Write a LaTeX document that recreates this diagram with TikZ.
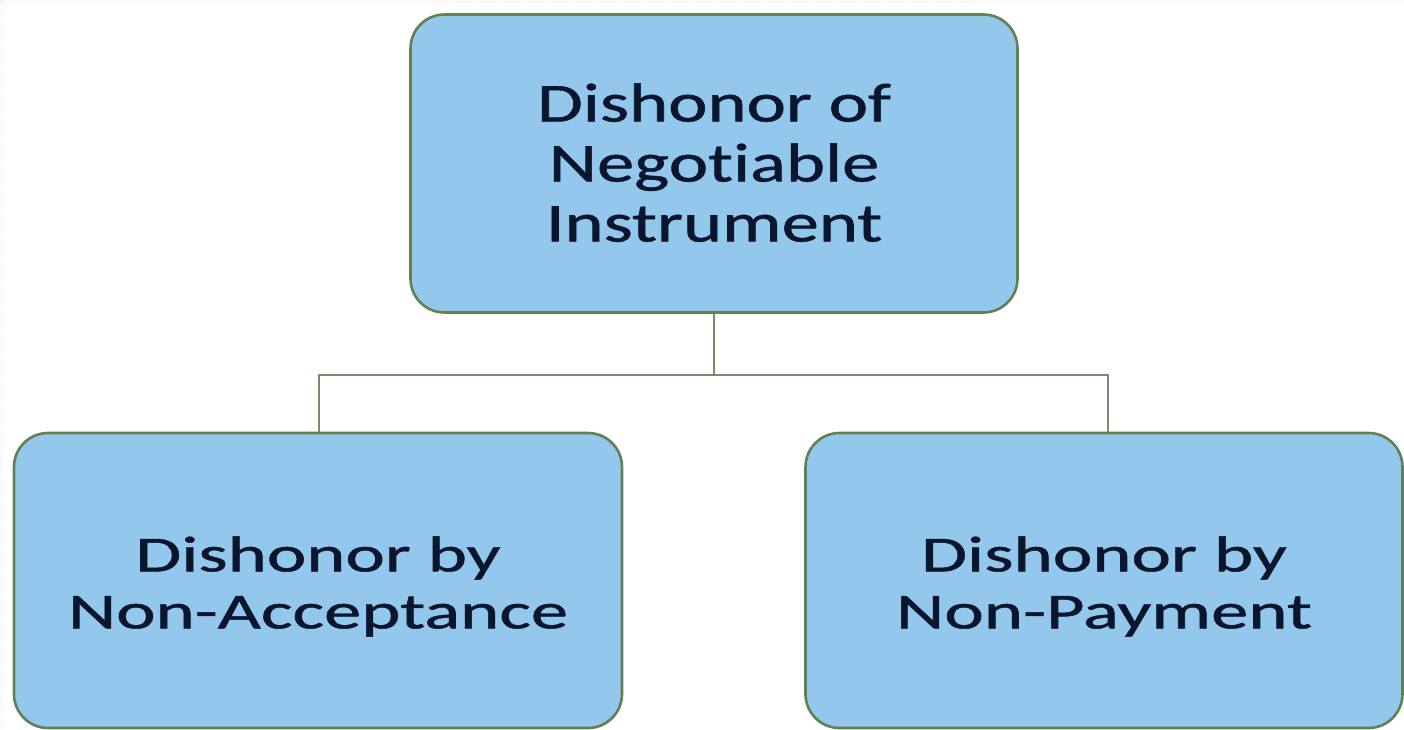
\documentclass[tikz,border=0pt]{standalone}
\usepackage{fontspec}
\setmainfont{Carlito}[Ligatures={NoCommon}, FakeBold=0.8]
\usepackage{graphicx}
\definecolor{boxfill}{RGB}{147,199,235}
\definecolor{boxdraw}{RGB}{98,128,84}
\definecolor{linkcol}{RGB}{128,136,108}
\definecolor{txtcol}{RGB}{10,22,45}
\tikzset{
  box/.style={draw=boxdraw, line width=2.6pt, fill=boxfill, rounded corners=34pt,
    inner sep=0pt},
  label/.style={inner sep=0pt, text=txtcol},
  link/.style={draw=linkcol, line width=2pt},
  edge/.style={draw=black!12, dotted, line width=1pt}
}
\newcommand{\topfont}{\fontsize{55}{60}\selectfont}
\newcommand{\botfont}{\fontsize{50.5}{57}\selectfont}
\begin{document}
\begin{tikzpicture}[x=1pt,y=-1pt]
\useasboundingbox (0,0) rectangle (1404,729);
\fill[white] (0,0) rectangle (1404,729);
\draw[edge] (0,1) -- (1404,1);
\draw[edge] (1,0) -- (1,729);
\node[box, minimum width=607pt, minimum height=298pt] (top) at (714,163.5) {};
\node[box, minimum width=608pt, minimum height=295pt] (left) at (318,580.5) {};
\node[box, minimum width=597pt, minimum height=295pt] (right) at (1104,580.5) {};
\node[label] (toptext) at ([yshift=-6pt]top.center)
  {\resizebox{354pt}{\height}{\topfont\begin{tabular}{@{}c@{}}Dishonor of\\Negot\kern0pt iable\\Instrument\end{tabular}}};
\node[label] (lefttext) at ([yshift=-8pt]left.center)
  {\resizebox{500pt}{\height}{\botfont\begin{tabular}{@{}c@{}}Dishonor by\\Non-Acceptance\end{tabular}}};
\node[label] (righttext) at ([yshift=-8pt]right.center)
  {\resizebox{416pt}{\height}{\botfont\begin{tabular}{@{}c@{}}Dishonor by\\Non-Payment\end{tabular}}};
\coordinate (split) at ([yshift=-61pt]top.south);
\draw[link] (top.south) -- (split) -| ([xshift=1pt]left.north);
\draw[link] (split) -| ([xshift=4pt]right.north);
\end{tikzpicture}
\end{document}
